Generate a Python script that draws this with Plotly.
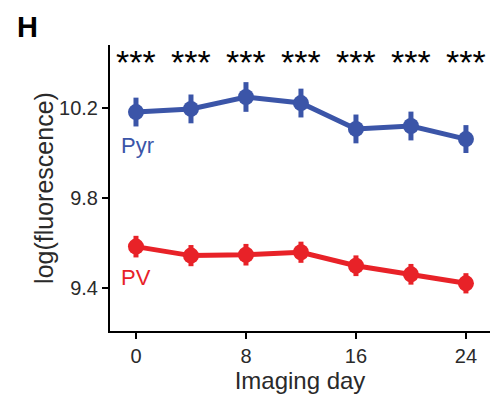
import plotly.graph_objects as go

days = [0, 4, 8, 12, 16, 20, 24]
pyr = [10.182, 10.196, 10.249, 10.222, 10.107, 10.120, 10.062]
pyr_err = [0.064, 0.064, 0.066, 0.064, 0.064, 0.064, 0.062]
pv = [9.584, 9.544, 9.548, 9.559, 9.499, 9.461, 9.421]
pv_err = [0.048, 0.047, 0.048, 0.047, 0.046, 0.046, 0.045]
sig = ["***"] * 7
x_ticks = [0, 8, 16, 24]
y_ticks = [9.4, 9.8, 10.2]

BLUE = "#3b55a8"
RED = "#e82228"
FONT = "Liberation Sans, Arial, sans-serif"

fig = go.Figure()
for vals, errs, col in [(pyr, pyr_err, BLUE), (pv, pv_err, RED)]:
    fig.add_trace(go.Scatter(
        x=days, y=vals, mode="lines+markers",
        line=dict(color=col, width=5),
        marker=dict(color=col, size=16),
        error_y=dict(type="data", array=errs, visible=True, color=col, thickness=5, width=0),
        showlegend=False,
    ))

for d, s in zip(days, sig):
    fig.add_annotation(x=d, y=10.406, xref="x", yref="y", text=s, showarrow=False,
                       yanchor="middle", font=dict(family=FONT, size=34, color="black"))

fig.add_annotation(x=-1.2, y=10.035, xref="x", yref="y", text="Pyr", showarrow=False,
                   xanchor="left", yanchor="middle", font=dict(family=FONT, size=22, color=BLUE))
fig.add_annotation(x=-1.2, y=9.445, xref="x", yref="y", text="PV", showarrow=False,
                   xanchor="left", yanchor="middle", font=dict(family=FONT, size=22, color=RED))
fig.add_annotation(x=-0.218, y=1.063, xref="paper", yref="paper", text="<b>H</b>", showarrow=False,
                   xanchor="center", yanchor="middle",
                   font=dict(family=FONT, size=29, color="black"))
fig.add_annotation(x=-0.174, y=0.5, xref="paper", yref="paper", text="log(fluorescence)",
                   showarrow=False, textangle=-90, xanchor="center", yanchor="middle",
                   font=dict(family=FONT, size=25, color="#2a2a2a"))

fig.update_layout(
    width=500, height=402,
    margin=dict(l=110, r=10, t=45, b=71),
    plot_bgcolor="white", paper_bgcolor="white",
    font=dict(family=FONT, size=20, color="#2a2a2a"),
    xaxis=dict(range=[-1.89, 25.75], tickvals=x_ticks, showline=True, linecolor="black",
               linewidth=2, ticks="outside", ticklen=6, tickwidth=1.5, tickcolor="black",
               showgrid=False, zeroline=False,
               title=dict(text="Imaging day", font=dict(size=24, color="#2a2a2a"), standoff=0)),
    yaxis=dict(range=[9.209, 10.48], tickvals=y_ticks, ticktext=["9.4", "9.8", "10.2"],
               showline=True, linecolor="black",
               linewidth=2, ticks="outside", ticklen=6, tickwidth=1.5, tickcolor="black",
               showgrid=False, zeroline=False),
)

fig.write_html("out.html")
